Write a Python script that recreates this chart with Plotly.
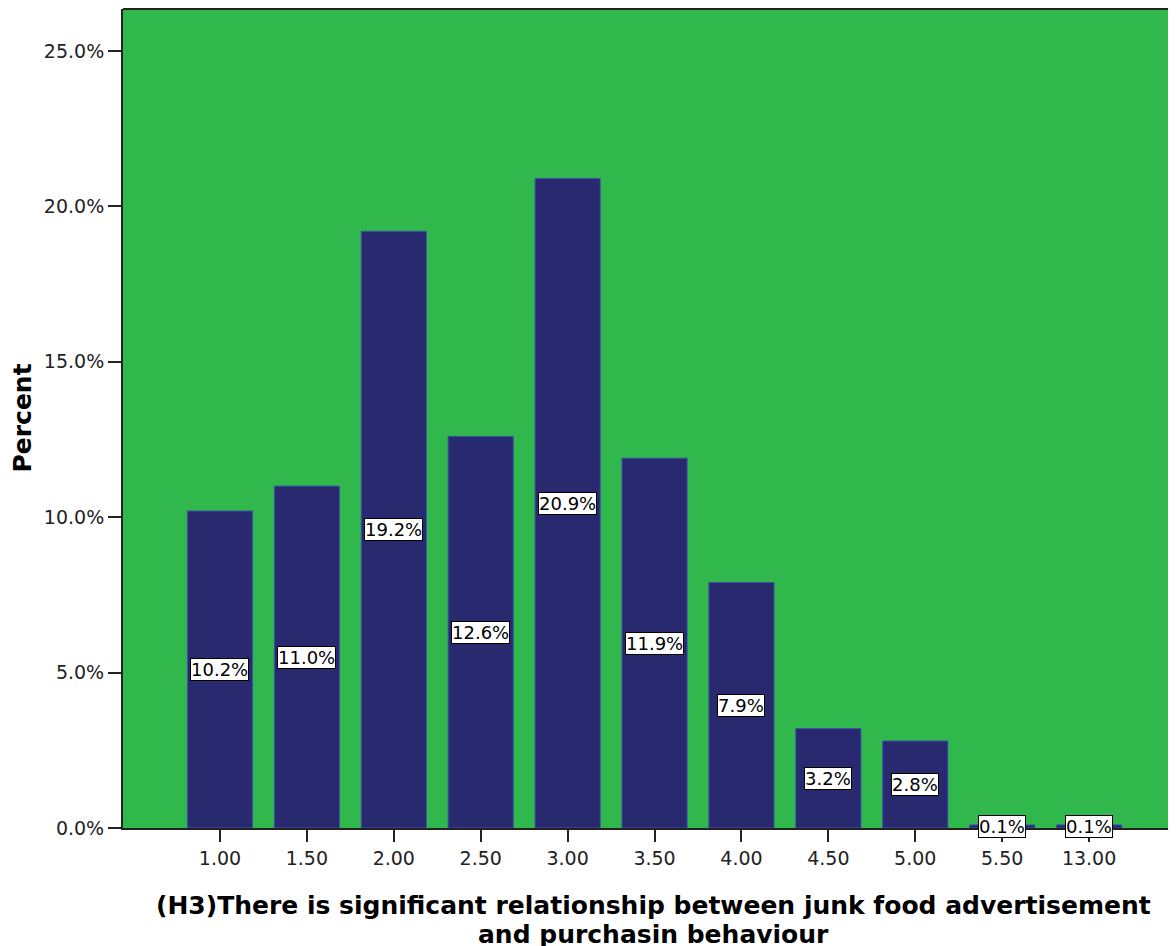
import plotly.graph_objects as go

categories = ["1.00", "1.50", "2.00", "2.50", "3.00", "3.50", "4.00", "4.50", "5.00", "5.50", "13.00"]
percents = [10.2, 11.0, 19.2, 12.6, 20.9, 11.9, 7.9, 3.2, 2.8, 0.1, 0.1]
y_ticks = [0, 5, 10, 15, 20, 25]
y_tick_labels = [f"{t:.1f}%" for t in y_ticks]
x_title_lines = ["(H3)There is significant relationship between junk food advertisement",
                 "and purchasin behaviour"]
y_title = "Percent"

FONT = "DejaVu Sans, sans-serif"
positions = list(range(len(categories)))

fig = go.Figure()
fig.add_trace(go.Bar(
    x=positions,
    y=percents,
    width=0.75,
    marker=dict(color="#29296F", line=dict(color="#3E55A8", width=1)),
    hoverinfo="y",
))

for i, v in zip(positions, percents):
    fig.add_annotation(
        x=i, y=v / 2, xref="x", yref="y",
        text=f"{v:.1f}%", showarrow=False,
        font=dict(family=FONT, size=18, color="black"),
        bgcolor="white", bordercolor="black", borderwidth=1, borderpad=0,
    )

# x-axis title (two lines)
for ypos, line in zip([-0.0946, -0.1300], x_title_lines):
    fig.add_annotation(
        x=0.504, y=ypos, xref="paper", yref="paper",
        xanchor="center", yanchor="middle",
        text=f"<b>{line}</b>", showarrow=False,
        font=dict(family=FONT, size=25, color="black"),
    )

# y-axis title
fig.add_annotation(
    x=-0.0959, y=0.5, xref="paper", yref="paper",
    xanchor="center", yanchor="middle",
    text=f"<b>{y_title}</b>", showarrow=False, textangle=-90,
    font=dict(family=FONT, size=25, color="black"),
)

# top border of the chart frame
fig.add_shape(type="line", xref="paper", yref="paper", x0=0, x1=1.02, y0=1, y1=1,
              line=dict(color="#222222", width=2))

fig.update_layout(
    width=1168, height=938,
    margin=dict(l=115, r=0, t=1, b=118),
    paper_bgcolor="white",
    plot_bgcolor="#30B84C",
    showlegend=False,
    xaxis=dict(
        range=[-1.116, 11.0],
        tickvals=positions, ticktext=categories,
        showgrid=False, zeroline=False,
        showline=True, linecolor="#222222", linewidth=2,
        ticks="outside", ticklen=12, tickcolor="#222222", tickwidth=1.5,
        tickfont=dict(family=FONT, size=19, color="#222222"),
    ),
    yaxis=dict(
        range=[0, 26.35],
        tickvals=y_ticks, ticktext=y_tick_labels,
        showgrid=False, zeroline=False,
        showline=True, linecolor="#222222", linewidth=2,
        ticks="outside", ticklen=13, tickcolor="#222222", tickwidth=1.5,
        tickfont=dict(family=FONT, size=19, color="#222222"),
    ),
)

fig.write_html("out.html")
